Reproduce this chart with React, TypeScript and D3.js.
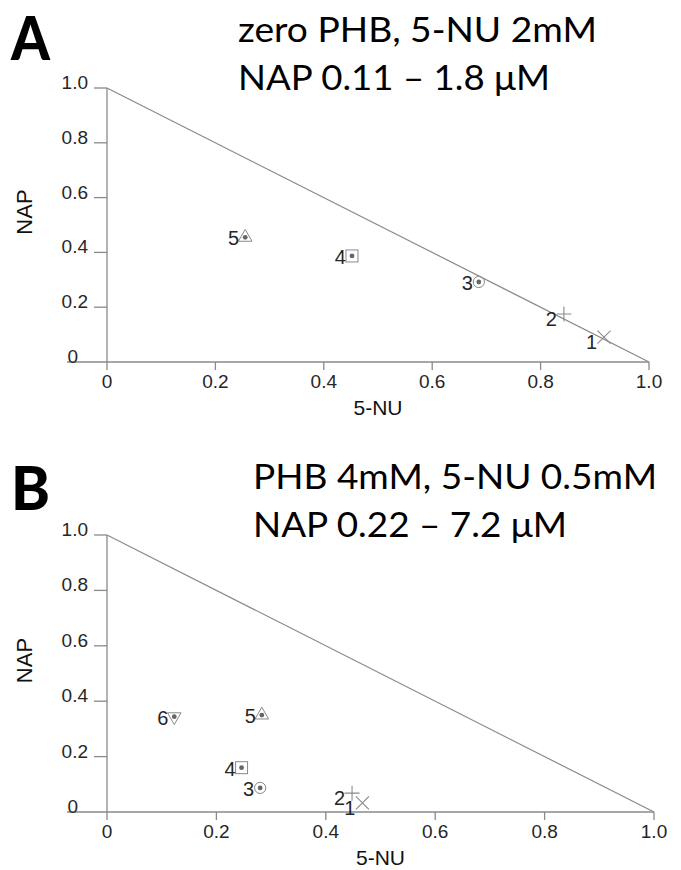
import * as d3 from "d3";

// axis ticks, shared by both panels
const tickValues = [0, 0.2, 0.4, 0.6, 0.8, 1.0];
const tickLabels = ["0", "0.2", "0.4", "0.6", "0.8", "1.0"];

// panel A: zero PHB
const idsA = ["1", "2", "3", "4", "5"];
const nuA = [0.917, 0.843, 0.686, 0.452, 0.255];
const napA = [0.091, 0.175, 0.292, 0.387, 0.455];
const marksA = ["cross", "plus", "circle", "square", "triangle"];
const titleA = ["zero PHB, 5-NU 2mM", "NAP 0.11 \u2013 1.8 \u03bcM"];

// panel B: PHB 4mM
const idsB = ["1", "2", "3", "4", "5", "6"];
const nuB = [0.467, 0.448, 0.28, 0.246, 0.283, 0.123];
const napB = [0.033, 0.068, 0.087, 0.16, 0.35, 0.344];
const marksB = ["cross", "plus", "circle", "square", "triangle", "triangleDown"];
const titleB = ["PHB 4mM, 5-NU 0.5mM", "NAP 0.22 \u2013 7.2 \u03bcM"];

const AXIS = "#8a8a8a";
const TEXT = "#262626";
const SANS = "'Liberation Sans', Arial, sans-serif";
const TITLE_FONT = "Lato, 'Open Sans', sans-serif";

const triPath = d3.symbol(d3.symbolTriangle, 80)() as string;

function Marker({ kind, x, y }: { kind: string; x: number; y: number }) {
  const dot = <circle r={2.4} fill="#666" />;
  let shape: any = null;
  if (kind === "cross") {
    shape = <path d="M-6.5,-6.5L6.5,6.5M-6.5,6.5L6.5,-6.5" stroke={AXIS} strokeWidth={1.1} fill="none" />;
  } else if (kind === "plus") {
    shape = <path d="M-7.5,0L7.5,0M0,-7.5L0,7.5" stroke={AXIS} strokeWidth={1.1} fill="none" />;
  } else if (kind === "circle") {
    shape = (<>
      <circle r={5.6} stroke={AXIS} fill="none" strokeWidth={1} />
      {dot}
    </>);
  } else if (kind === "square") {
    shape = (<>
      <rect x={-6} y={-6} width={12} height={12} stroke={AXIS} fill="none" strokeWidth={1} />
      {dot}
    </>);
  } else if (kind === "triangle") {
    shape = (<>
      <path d={triPath} stroke={AXIS} fill="none" strokeWidth={1} />
      {dot}
    </>);
  } else if (kind === "triangleDown") {
    shape = (<>
      <path d={triPath} transform="rotate(180)" stroke={AXIS} fill="none" strokeWidth={1} />
      {dot}
    </>);
  }
  return <g transform={`translate(${x},${y})`}>{shape}</g>;
}

type PanelProps = {
  letter: string;
  letterY: number;
  titles: string[];
  titleX: number;
  titleBase: number[];
  titleWidths: number[];
  xRange: [number, number];
  yRange: [number, number];
  ids: string[];
  nu: number[];
  nap: number[];
  marks: string[];
};

function Panel(p: PanelProps) {
  const x = d3.scaleLinear().domain([0, 1]).range(p.xRange);
  const y = d3.scaleLinear().domain([0, 1]).range(p.yRange);
  const diag = d3.line<number>().x((d) => x(d)).y((d) => y(1 - d));
  const x0 = x(0);
  const y0 = y(0);

  return (
    <g>
      <text x={11} y={p.letterY} fontFamily={TITLE_FONT} fontWeight={900} fontSize={60} fill="#000"
        textLength={39} lengthAdjust="spacingAndGlyphs">
        {p.letter}
      </text>
      {p.titles.map((t, i) => (
        <text key={i} x={p.titleX} y={p.titleBase[i]} fontFamily={TITLE_FONT} fontSize={34} fill="#000"
          textLength={p.titleWidths[i]} lengthAdjust="spacingAndGlyphs">
          {t}
        </text>
      ))}

      {/* axes */}
      <line x1={x0 - 40} x2={x(1)} y1={y0} y2={y0} stroke={AXIS} strokeWidth={1.3} />
      <line x1={x0} x2={x0} y1={y(1)} y2={y0 + 8} stroke={AXIS} strokeWidth={1.3} />
      {tickValues.slice(1).map((t) => (
        <line key={"yt" + t} x1={x0 - 13} x2={x0} y1={y(t)} y2={y(t)} stroke={AXIS} strokeWidth={1.3} />
      ))}
      {tickValues.slice(1).map((t) => (
        <line key={"xt" + t} x1={x(t)} x2={x(t)} y1={y0} y2={y0 + 8} stroke={AXIS} strokeWidth={1.3} />
      ))}
      {tickValues.map((t, i) => (
        <text key={"yl" + t} x={i === 0 ? x0 - 29 : x0 - 19} y={y(t) + 1} textAnchor="end"
          fontFamily={SANS} fontSize={19} fill={TEXT}>
          {tickLabels[i]}
        </text>
      ))}
      {tickValues.map((t, i) => (
        <text key={"xl" + t} x={x(t)} y={y0 + 26} textAnchor="middle" fontFamily={SANS} fontSize={19} fill={TEXT}>
          {tickLabels[i]}
        </text>
      ))}
      <text x={x(0.5)} y={y0 + 53} textAnchor="middle" fontFamily={SANS} fontSize={21} fill="#111">
        5-NU
      </text>
      <text transform={`translate(${x0 - 75},${y(0.5) - 13}) rotate(-90)`} textAnchor="middle"
        fontFamily={SANS} fontSize={22} fill="#111">
        NAP
      </text>

      {/* triangle edge NAP + 5-NU = 1 */}
      <path d={diag([0, 1]) as string} stroke={AXIS} strokeWidth={1.2} fill="none" />

      {p.ids.map((id, i) => {
        const px = x(p.nu[i]);
        const py = y(p.nap[i]);
        const line = p.marks[i] === "cross" || p.marks[i] === "plus";
        return (
          <g key={id}>
            <Marker kind={p.marks[i]} x={px} y={py} />
            <text x={px - (line ? 7 : 6)} y={py + (line ? 12 : 8)} textAnchor="end"
              fontFamily={SANS} fontSize={20} fill={TEXT}>
              {id}
            </text>
          </g>
        );
      })}
    </g>
  );
}

export default function App() {
  return (
    <svg width={681} height={870} style={{ position: "absolute", left: 0, top: 0, background: "#fff" }}>
      <rect width={681} height={870} fill="#fff" />
      <Panel letter="A" letterY={60} titles={titleA} titleX={238} titleBase={[42, 90]} titleWidths={[359, 312]}
        xRange={[107, 649]} yRange={[362, 88]} ids={idsA} nu={nuA} nap={napA} marks={marksA} />
      <Panel letter="B" letterY={510} titles={titleB} titleX={253} titleBase={[489, 537]} titleWidths={[404, 314]}
        xRange={[107, 654]} yRange={[812, 535]} ids={idsB} nu={nuB} nap={napB} marks={marksB} />
    </svg>
  );
}
